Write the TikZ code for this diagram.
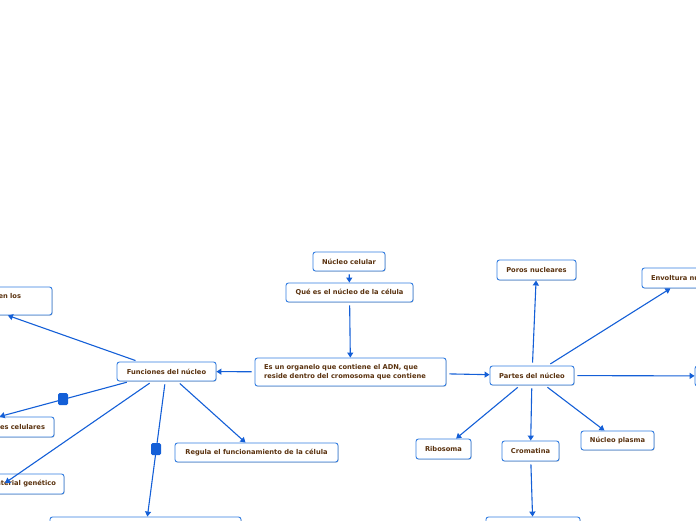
\documentclass[tikz,border=0pt]{standalone}
\usepackage{fontspec}
\setmainfont{DejaVu Sans}
\usetikzlibrary{arrows.meta,shadows}
\definecolor{lnk}{RGB}{20,95,215}
\definecolor{bx}{RGB}{50,125,225}
\definecolor{tx}{RGB}{90,50,15}
\tikzset{
 box/.style={draw=bx, line width=0.9pt, rounded corners=2.5pt, fill=white, text=tx,
   font=\fontsize{6.7}{8.8}\selectfont\bfseries, inner sep=0pt, align=center,
   drop shadow={shadow xshift=0.6pt, shadow yshift=-0.7pt, opacity=0.25, fill=black}},
 conn/.style={draw=lnk, line width=1.1pt, -{Triangle[length=5pt,width=6pt]}, shorten <=3pt},
 sq/.style={fill=lnk, rounded corners=1.5pt, minimum width=10pt, minimum height=12pt, inner sep=0pt}
}
\begin{document}
\begin{tikzpicture}[x=1pt,y=-1pt]
\useasboundingbox (0,0) rectangle (696,520);
\clip (0,0) rectangle (696,520);
% nodes
\node[box, minimum width=72pt, minimum height=19pt] (nc) at (349,261.5) {Núcleo celular};
\node[box, minimum width=127pt, minimum height=19pt] (que) at (349.5,292.5) {Qué es el núcleo de la célula};
\node[box, minimum width=191pt, minimum height=28pt, text width=173pt, align=left] (esun) at (350.5,372) {Es un organelo que contiene el ADN, que\\reside dentro del cromosoma que contiene};
\node[box, minimum width=84pt, minimum height=19pt] (partes) at (532,375.5) {Partes del núcleo};
\node[box, minimum width=79pt, minimum height=20pt] (poros) at (536.5,270) {Poros nucleares};
\node[box, minimum width=90pt, minimum height=20pt, text width=72pt, align=left] (envol) at (687,278) {Envoltura nuclear};
\node[box, minimum width=90pt, minimum height=20pt] (rnode) at (740,376) {};
\node[box, minimum width=55pt, minimum height=20pt] (ribo) at (443.5,449) {Ribosoma};
\node[box, minimum width=57pt, minimum height=20pt] (crom) at (530.5,451) {Cromatina};
\node[box, minimum width=73pt, minimum height=19pt] (plasma) at (617.5,440.5) {Núcleo plasma};
\node[box, minimum width=94pt, minimum height=28pt] (bot2) at (533,531) {};
\node[box, minimum width=99pt, minimum height=19pt] (fun) at (166.5,371.5) {Funciones del núcleo};
\node[box, minimum width=170pt, minimum height=28pt, text width=108pt, align=right] (enlos) at (-33,301) {Participa en los\\\mbox{procesos celulares\hspace{60pt}}};
\node[box, minimum width=186pt, minimum height=20pt, text width=168pt, align=right] (cel) at (-39,427) {Coordina todas las actividades celulares};
\node[box, minimum width=132pt, minimum height=20pt, text width=116pt, align=right] (gen) at (-2,484) {Almacena el material genético};
\node[box, minimum width=191pt, minimum height=28pt] (bot) at (145.5,531) {};
\node[box, minimum width=163pt, minimum height=19pt] (regula) at (256.5,452.5) {Regula el funcionamiento de la célula};
\coordinate (gentip) at (5,483);
% connectors
\draw[conn] (nc) -- (que);
\draw[conn] (que) -- (esun);
\draw[conn] (esun) -- (fun);
\draw[conn] (esun) -- (partes);
\draw[conn] (partes) -- (poros);
\draw[conn] (partes) -- (envol);
\draw[conn] (partes) -- (rnode);
\draw[conn] (partes) -- (ribo);
\draw[conn] (partes) -- (crom);
\draw[conn] (partes) -- (plasma);
\draw[conn] (crom) -- (bot2);
\draw[conn] (fun) -- (enlos);
\draw[conn] (fun) -- (cel);
\draw[conn] (fun) -- (gentip);
\draw[conn] (fun) -- (bot);
\draw[conn] (fun) -- (regula);
% markers
\node[sq] (sq1) at (63,399) {};
\node[sq] (sq2) at (156,449) {};
\end{tikzpicture}
\end{document}
